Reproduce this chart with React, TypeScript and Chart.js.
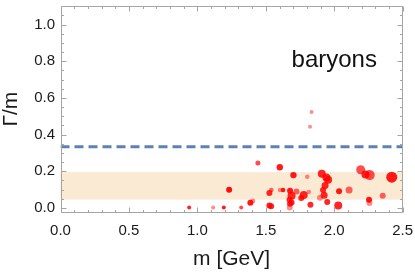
import React, { useEffect, useRef } from "react";
import { Chart, registerables } from "chart.js";

Chart.register(...registerables);

// ---- data ----
const masses = [
  1.834, 1.823, 1.442, 1.602, 1.702, 1.803, 1.909, 1.942, 1.955, 1.933,
  1.918, 1.926, 1.949, 2.193, 2.228, 2.259, 2.42, 1.232, 1.54, 1.526,
  1.604, 1.626, 1.677, 1.724, 1.688, 1.673, 1.677, 1.675, 1.777, 1.759,
  1.814, 2.035, 2.108, 1.896, 2.029, 2.254, 2.257, 2.354, 0.94, 1.115,
  1.193, 1.32, 1.387, 1.405, 1.526, 1.539, 1.826, 1.688,
];
const widthRatios = [
  0.523, 0.443, 0.245, 0.222, 0.179, 0.17, 0.186, 0.166, 0.154, 0.122,
  0.098, 0.069, 0.033, 0.208, 0.183, 0.179, 0.168, 0.099, 0.098, 0.081,
  0.098, 0.098, 0.094, 0.09, 0.067, 0.045, 0.023, 0.002, 0.071, 0.054,
  0.087, 0.091, 0.098, 0.055, 0.013, 0.045, 0.027, 0.067, 0.002, 0.002,
  0.002, 0.002, 0.028, 0.038, 0.013, 0.009, 0.018, 0.029,
];
const bubbleSizes = [
  2, 2, 2.5, 3.2, 3.2, 2.3, 4, 4, 4, 3.5,
  3, 3.5, 3, 4.5, 4, 5, 5.5, 3, 2.3, 3,
  2.3, 2.3, 3, 3, 4, 3, 3, 3, 4, 3,
  2.3, 3, 3.5, 3, 4, 3, 3, 3, 2, 2,
  2, 2, 3, 2.5, 3, 3, 3, 3,
];
const opacities = [
  0.45, 0.45, 0.7, 0.9, 0.9, 0.45, 0.85, 0.85, 0.85, 0.85,
  0.85, 0.85, 0.85, 0.7, 0.85, 0.7, 0.9, 0.95, 0.6, 0.85,
  0.45, 0.9, 0.9, 0.6, 0.85, 0.85, 0.85, 0.45, 0.85, 0.85,
  0.45, 0.9, 0.6, 0.45, 0.85, 0.9, 0.45, 0.6, 0.85, 0.45,
  0.9, 0.7, 0.9, 0.45, 0.85, 0.85, 0.85, 0.85,
];
const xTickValues = [0, 0.5, 1.0, 1.5, 2.0, 2.5];
const xTickLabels = ["0.0", "0.5", "1.0", "1.5", "2.0", "2.5"];
const yTickValues = [0, 0.2, 0.4, 0.6, 0.8, 1.0];
const yTickLabels = ["0.0", "0.2", "0.4", "0.6", "0.8", "1.0"];
const bandRange = [0.045, 0.195];
const thresholdRatio = 1 / 3;
const xRange = [0, 2.5];
const yRange = [-0.026, 1.104];
const labelText = "baryons";
const labelAnchor = { x: 2.0, y: 0.766 };

const FONT = "'Liberation Sans', Arial, sans-serif";
const FRAME = "rgb(165,165,165)";

const decorPlugin = {
  id: "decor",
  beforeDatasetsDraw(chart: any) {
    const { ctx, chartArea: a, scales } = chart;
    const y = scales.y;
    const top = y.getPixelForValue(bandRange[1]);
    const bot = y.getPixelForValue(bandRange[0]);
    ctx.save();
    ctx.fillStyle = "rgb(250,233,211)";
    ctx.fillRect(a.left, top, a.right - a.left, bot - top);
    ctx.restore();
  },
  afterDraw(chart: any) {
    const { ctx, chartArea: a, scales } = chart;
    const xs = scales.x;
    const ys = scales.y;
    ctx.save();
    ctx.strokeStyle = FRAME;
    ctx.lineWidth = 1;
    const L = Math.round(a.left) + 0.5;
    const R = Math.round(a.right) - 0.5;
    const T = Math.round(a.top) + 0.5;
    const B = Math.round(a.bottom) - 0.5;
    ctx.beginPath();
    ctx.rect(L, T, R - L, B - T);
    ctx.stroke();
    ctx.beginPath();
    for (let i = 0; i <= 25; i++) {
      const v = i / 10;
      const px = Math.round(xs.getPixelForValue(v)) + 0.5;
      const len = i % 5 === 0 ? 5 : 2.5;
      ctx.moveTo(px, B);
      ctx.lineTo(px, B - len);
      ctx.moveTo(px, T);
      ctx.lineTo(px, T + len);
    }
    for (let i = 0; i <= 22; i++) {
      const v = i / 20;
      const py = Math.round(ys.getPixelForValue(v)) + 0.5;
      if (py < a.top) continue;
      const len = i % 4 === 0 ? 5 : 2.5;
      ctx.moveTo(L, py);
      ctx.lineTo(L + len, py);
      ctx.moveTo(R, py);
      ctx.lineTo(R - len, py);
    }
    ctx.stroke();
    ctx.fillStyle = "#111";
    ctx.font = `24px ${FONT}`;
    ctx.textAlign = "center";
    ctx.textBaseline = "alphabetic";
    ctx.fillText(labelText, xs.getPixelForValue(labelAnchor.x), ys.getPixelForValue(labelAnchor.y));
    ctx.restore();
  },
};

const zeroPad = (s: any) => {
  s.paddingTop = 0;
  s.paddingBottom = 0;
  s.paddingLeft = 0;
  s.paddingRight = 0;
};

export default function App() {
  const ref = useRef<HTMLCanvasElement | null>(null);
  useEffect(() => {
    document.body.style.margin = "0";
    const canvas = ref.current;
    if (!canvas) return;
    const points = masses.map((m, i) => ({ x: m, y: widthRatios[i], r: bubbleSizes[i] }));
    const colors = opacities.map((o) => `rgba(255,0,0,${o})`);
    const chart = new Chart(canvas, {
      type: "bubble",
      data: {
        datasets: [
          {
            type: "line",
            data: [
              { x: xRange[0], y: thresholdRatio },
              { x: xRange[1], y: thresholdRatio },
            ],
            borderColor: "rgb(94,129,181)",
            borderWidth: 3,
            borderDash: [9, 5],
            pointRadius: 0,
            fill: false,
            order: 2,
          } as any,
          {
            type: "bubble",
            data: points,
            backgroundColor: colors,
            borderWidth: 0,
            order: 1,
          } as any,
        ],
      },
      options: {
        animation: false,
        responsive: false,
        events: [],
        layout: { padding: { left: 0, right: 12.3, top: 0, bottom: 0 } },
        plugins: { legend: { display: false }, tooltip: { enabled: false } },
        scales: {
          x: {
            type: "linear",
            min: xRange[0],
            max: xRange[1],
            grid: { display: false, drawTicks: false },
            border: { display: false },
            afterFit: (s: any) => {
              s.height = 60.3;
              zeroPad(s);
            },
            afterBuildTicks: (s: any) => {
              s.ticks = xTickValues.map((v) => ({ value: v }));
            },
            ticks: {
              padding: 9,
              maxRotation: 0,
              autoSkip: false,
              color: "#1a1a1a",
              font: { family: FONT, size: 15 },
              callback: (v: any) => xTickLabels[xTickValues.indexOf(Number(v))] ?? "",
            },
            title: {
              display: true,
              text: "m [GeV]",
              color: "#1a1a1a",
              font: { family: FONT, size: 21, lineHeight: 1 },
              padding: { top: 0, bottom: 3.5 },
            },
          },
          y: {
            type: "linear",
            min: yRange[0],
            max: yRange[1],
            grid: { display: false, drawTicks: false },
            border: { display: false },
            afterFit: (s: any) => {
              s.width = 60.5;
              zeroPad(s);
            },
            afterBuildTicks: (s: any) => {
              s.ticks = yTickValues.map((v) => ({ value: v }));
            },
            ticks: {
              padding: 5.5,
              autoSkip: false,
              color: "#1a1a1a",
              font: { family: FONT, size: 15 },
              callback: (v: any) => {
                const i = yTickValues.findIndex((t) => Math.abs(t - Number(v)) < 1e-9);
                return i >= 0 ? yTickLabels[i] : "";
              },
            },
            title: {
              display: true,
              text: "Γ/m",
              color: "#1a1a1a",
              font: { family: FONT, size: 21, lineHeight: 1 },
              padding: { top: 0.5, bottom: 0 },
            },
          },
        },
      },
      plugins: [decorPlugin],
    });
    return () => chart.destroy();
  }, []);
  return (
    <div style={{ width: 415, height: 273 }}>
      <canvas ref={ref} width={415} height={273} style={{ display: "block" }} />
    </div>
  );
}
